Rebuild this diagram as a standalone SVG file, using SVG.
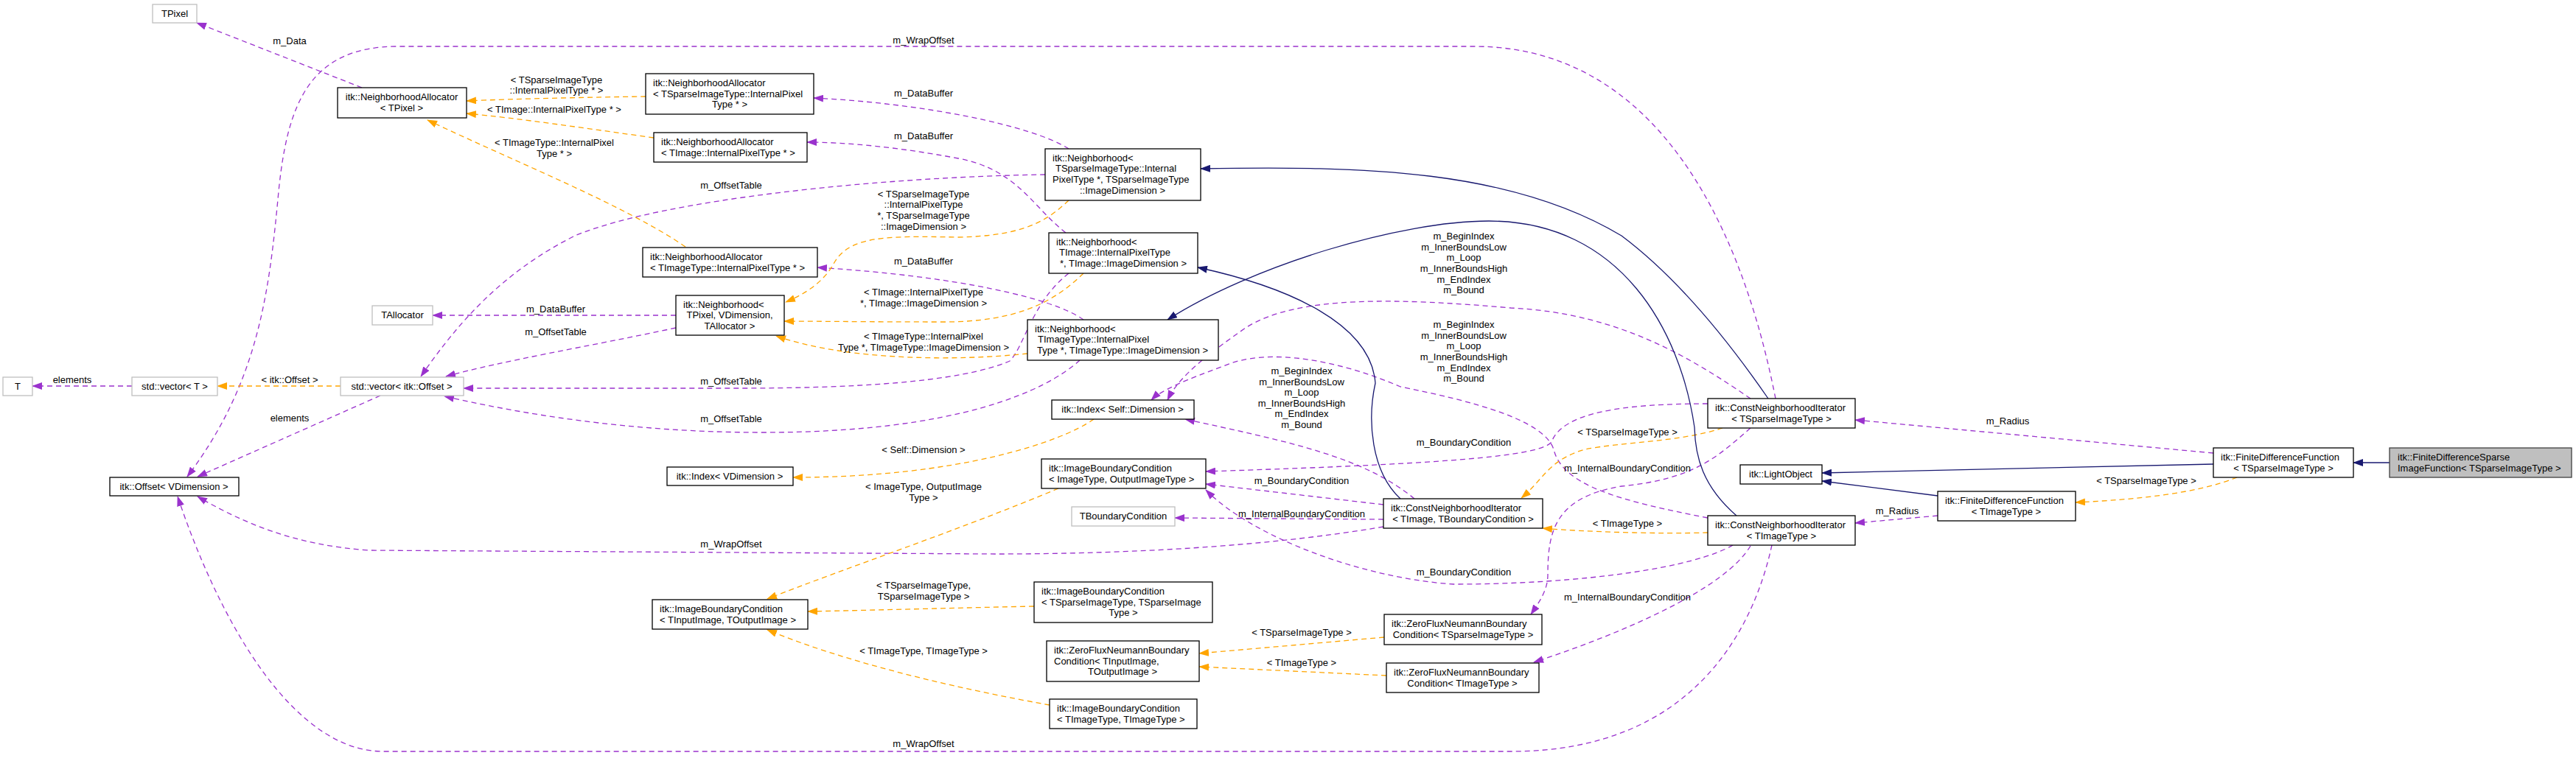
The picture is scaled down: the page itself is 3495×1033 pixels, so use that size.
<svg xmlns="http://www.w3.org/2000/svg" width="3495" height="1033" viewBox="0 0 3495 1033">
<style>
text{font-family:"Liberation Sans",Arial,sans-serif;font-size:13px;fill:#000}
.c{text-anchor:middle}
.n rect{fill:#fff;stroke:#000;stroke-width:1.3}
.g rect{fill:#fff;stroke:#bfbfbf;stroke-width:1.3}
.s rect{fill:#bfbfbf;stroke:#404040;stroke-width:1.3}
.p{fill:none;stroke:#9a32cd;stroke-width:1.3;stroke-dasharray:7,5;marker-end:url(#mp)}
.o{fill:none;stroke:#ffa500;stroke-width:1.3;stroke-dasharray:7,5;marker-end:url(#mo)}
.b{fill:none;stroke:#191970;stroke-width:1.3;marker-end:url(#mb)}
</style>
<defs>
<marker id="mp" markerWidth="14" markerHeight="10" refX="13" refY="5" orient="auto" markerUnits="userSpaceOnUse"><path d="M0,0L14,5L0,10z" fill="#9a32cd"/></marker>
<marker id="mo" markerWidth="14" markerHeight="10" refX="13" refY="5" orient="auto" markerUnits="userSpaceOnUse"><path d="M0,0L14,5L0,10z" fill="#ffa500"/></marker>
<marker id="mb" markerWidth="14" markerHeight="10" refX="13" refY="5" orient="auto" markerUnits="userSpaceOnUse"><path d="M0,0L14,5L0,10z" fill="#191970"/></marker>
</defs>
<rect width="3495" height="1033" fill="#fff"/>
<g id="edges">
<path class="p" d="M491,119L267,31"/><text class="c" x="393" y="60">m_Data</text>
<path class="p" d="M2409,541C2385,420 2300,63 2000,63L540,63C420,63 390,140 378,260C365,400 350,520 254,647"/><text class="c" x="1253" y="59">m_WrapOffset</text>
<path class="p" d="M1450,202C1400,170 1250,140 1104,133"/><text class="c" x="1253" y="131">m_DataBuffer</text>
<path class="p" d="M1446,316C1400,280 1380,230 1300,215C1220,200 1150,193 1095,193"/><text class="c" x="1253" y="189">m_DataBuffer</text>
<path class="p" d="M1470,434C1430,405 1300,375 1109,363"/><text class="c" x="1253" y="359">m_DataBuffer</text>
<path class="p" d="M917,428L587,428"/><text class="c" x="754" y="424">m_DataBuffer</text>
<path class="p" d="M917,445C800,470 680,490 605,511"/><text class="c" x="754" y="455">m_OffsetTable</text>
<path class="p" d="M1418,237C1200,240 900,270 780,320C680,370 620,440 571,511"/><text class="c" x="992" y="256">m_OffsetTable</text>
<path class="p" d="M1450,371C1400,410 1390,470 1370,490C1300,520 1150,527 1000,527L629,527"/><text class="c" x="992" y="522">m_OffsetTable</text>
<path class="p" d="M1465,489C1420,530 1300,587 1035,587C850,587 700,560 603,538"/><text class="c" x="992" y="573">m_OffsetTable</text>
<path class="p" d="M516,537L268,647"/><text class="c" x="393" y="572">elements</text>
<path class="p" d="M179,524L44,524"/><text class="c" x="98" y="520">elements</text>
<path class="o" d="M462,524L295,524"/><text class="c" x="393" y="520">&lt; itk::Offset &gt;</text>
<path class="p" d="M1877,715C1700,745 1500,752 1350,752L500,747C400,740 330,710 268,674"/><text class="c" x="992" y="743">m_WrapOffset</text>
<path class="p" d="M2404,740C2380,850 2300,1020 2050,1020L520,1020C400,1020 300,850 241,674"/><text class="c" x="1253" y="1014">m_WrapOffset</text>
<path class="p" d="M2375,541C2300,490 2200,425 2050,418C1900,405 1760,400 1690,445C1640,480 1600,510 1584,543"/>
<text class="c" x="1986" y="325">m_BeginIndex</text><text class="c" x="1986" y="340">m_InnerBoundsLow</text><text class="c" x="1986" y="354">m_Loop</text><text class="c" x="1986" y="369">m_InnerBoundsHigh</text><text class="c" x="1986" y="384">m_EndIndex</text><text class="c" x="1986" y="398">m_Bound</text>
<path class="p" d="M2317,703C2200,680 2120,660 2108,610C2095,570 2000,545 1900,525C1820,490 1720,470 1660,497C1610,515 1575,530 1562,543"/>
<text class="c" x="1986" y="445">m_BeginIndex</text><text class="c" x="1986" y="460">m_InnerBoundsLow</text><text class="c" x="1986" y="474">m_Loop</text><text class="c" x="1986" y="489">m_InnerBoundsHigh</text><text class="c" x="1986" y="504">m_EndIndex</text><text class="c" x="1986" y="518">m_Bound</text>
<path class="p" d="M1919,677C1850,620 1750,600 1608,569"/>
<text class="c" x="1766" y="508">m_BeginIndex</text><text class="c" x="1766" y="523">m_InnerBoundsLow</text><text class="c" x="1766" y="537">m_Loop</text><text class="c" x="1766" y="552">m_InnerBoundsHigh</text><text class="c" x="1766" y="566">m_EndIndex</text><text class="c" x="1766" y="581">m_Bound</text>
<path class="p" d="M1877,685L1636,657"/><text class="c" x="1766" y="657">m_BoundaryCondition</text>
<path class="p" d="M2317,548C2200,548 2120,560 2105,600C2090,620 1950,630 1636,640"/><text class="c" x="1986" y="605">m_BoundaryCondition</text>
<path class="p" d="M2351,740C2300,770 2150,793 1972,793C1850,785 1700,730 1636,665"/><text class="c" x="1986" y="781">m_BoundaryCondition</text>
<path class="p" d="M1877,705L1594,703"/><text class="c" x="1766" y="702">m_InternalBoundaryCondition</text>
<path class="p" d="M2375,581C2330,620 2300,650 2200,660C2110,675 2100,720 2100,780C2100,800 2090,815 2077,834"/><text class="c" x="2208" y="640">m_InternalBoundaryCondition</text>
<path class="p" d="M2375,741C2340,800 2200,860 2081,899"/><text class="c" x="2208" y="815">m_InternalBoundaryCondition</text>
<path class="p" d="M3003,615L2517,570"/><text class="c" x="2724" y="576">m_Radius</text>
<path class="p" d="M2629,700L2517,710"/><text class="c" x="2574" y="698">m_Radius</text>
<path class="o" d="M876,131C800,132 700,134 633,137"/><text class="c" x="755" y="113">&lt; TSparseImageType</text><text class="c" x="755" y="127">::InternalPixelType * &gt;</text>
<path class="o" d="M887,187C800,175 700,160 633,154"/><text class="c" x="752" y="153">&lt; TImage::InternalPixelType * &gt;</text>
<path class="o" d="M930,335C850,280 700,220 580,163"/><text class="c" x="752" y="198">&lt; TImageType::InternalPixel</text><text class="c" x="752" y="213">Type * &gt;</text>
<path class="o" d="M1450,272C1420,300 1390,320 1300,322C1200,320 1150,320 1130,360C1115,385 1090,400 1066,410"/>
<text class="c" x="1253" y="268">&lt; TSparseImageType</text><text class="c" x="1253" y="282">::InternalPixelType</text><text class="c" x="1253" y="297">*, TSparseImageType</text><text class="c" x="1253" y="312">::ImageDimension &gt;</text>
<path class="o" d="M1470,371C1430,410 1380,437 1280,437C1180,437 1100,436 1064,436"/><text class="c" x="1253" y="401">&lt; TImage::InternalPixelType</text><text class="c" x="1253" y="416">*, TImage::ImageDimension &gt;</text>
<path class="o" d="M1394,480C1300,490 1150,490 1053,456"/><text class="c" x="1253" y="461">&lt; TImageType::InternalPixel</text><text class="c" x="1253" y="476">Type *, TImageType::ImageDimension &gt;</text>
<path class="o" d="M1484,569C1440,600 1300,648 1076,648"/><text class="c" x="1253" y="615">&lt; Self::Dimension &gt;</text>
<path class="o" d="M1436,663C1300,720 1150,770 1041,813"/><text class="c" x="1253" y="665">&lt; ImageType, OutputImage</text><text class="c" x="1253" y="680">Type &gt;</text>
<path class="o" d="M1403,823C1300,825 1200,828 1096,830"/><text class="c" x="1253" y="799">&lt; TSparseImageType,</text><text class="c" x="1253" y="814">TSparseImageType &gt;</text>
<path class="o" d="M1424,957C1300,935 1150,900 1041,855"/><text class="c" x="1253" y="888">&lt; TImageType, TImageType &gt;</text>
<path class="o" d="M1878,865L1627,887"/><text class="c" x="1766" y="863">&lt; TSparseImageType &gt;</text>
<path class="o" d="M1881,917L1627,905"/><text class="c" x="1766" y="904">&lt; TImageType &gt;</text>
<path class="o" d="M2337,581C2280,600 2200,600 2150,610C2100,625 2095,650 2064,676"/><text class="c" x="2208" y="591">&lt; TSparseImageType &gt;</text>
<path class="o" d="M2317,723C2250,725 2150,722 2093,717"/><text class="c" x="2208" y="715">&lt; TImageType &gt;</text>
<path class="o" d="M3035,648C2980,670 2900,678 2816,682"/><text class="c" x="2912" y="657">&lt; TSparseImageType &gt;</text>
<path class="b" d="M3242,628L3193,628"/>
<path class="b" d="M3003,630L2472,642"/>
<path class="b" d="M2629,673L2472,653"/>
<path class="b" d="M2399,541C2350,470 2280,380 2200,320C2050,230 1850,225 1629,229"/>
<path class="b" d="M2356,700C2310,660 2300,620 2299,580C2280,450 2200,300 2020,300C1900,300 1700,360 1584,434"/>
<path class="b" d="M1900,677C1860,640 1855,570 1866,520C1860,440 1750,390 1625,363"/>
</g>
<g id="n_tpixel" class="g"><rect x="207" y="6" width="60" height="25"/><text class="c" x="237" y="23">TPixel</text></g>
<g id="n_na_tpixel" class="n"><rect x="458" y="119" width="175" height="41"/><text class="c" x="545" y="136">itk::NeighborhoodAllocator</text><text class="c" x="545" y="151">&lt; TPixel &gt;</text></g>
<g id="n_tallocator" class="g"><rect x="505" y="415" width="82" height="26"/><text class="c" x="546" y="432">TAllocator</text></g>
<g id="n_t" class="g"><rect x="4" y="512" width="40" height="25"/><text class="c" x="24" y="529">T</text></g>
<g id="n_vector_t" class="g"><rect x="179" y="512" width="116" height="25"/><text class="c" x="237" y="529">std::vector&lt; T &gt;</text></g>
<g id="n_vector_offset" class="g"><rect x="462" y="512" width="167" height="25"/><text class="c" x="545" y="529">std::vector&lt; itk::Offset &gt;</text></g>
<g id="n_offset" class="n"><rect x="149" y="648" width="175" height="25"/><text class="c" x="236" y="665">itk::Offset&lt; VDimension &gt;</text></g>
<g id="n_na_sparse" class="n"><rect x="876" y="100" width="228" height="55"/><text x="886" y="117">itk::NeighborhoodAllocator</text><text x="886" y="132">&lt; TSparseImageType::InternalPixel</text><text class="c" x="990" y="146">Type * &gt;</text></g>
<g id="n_na_timage" class="n"><rect x="887" y="180" width="208" height="40"/><text x="897" y="197">itk::NeighborhoodAllocator</text><text x="897" y="212">&lt; TImage::InternalPixelType * &gt;</text></g>
<g id="n_na_timagetype" class="n"><rect x="872" y="336" width="237" height="40"/><text x="882" y="353">itk::NeighborhoodAllocator</text><text x="882" y="368">&lt; TImageType::InternalPixelType * &gt;</text></g>
<g id="n_nbh_tpixel" class="n"><rect x="917" y="401" width="147" height="54"/><text x="927" y="418">itk::Neighborhood&lt;</text><text class="c" x="990" y="432"> TPixel, VDimension,</text><text class="c" x="990" y="447">TAllocator &gt;</text></g>
<g id="n_index_vd" class="n"><rect x="905" y="634" width="171" height="25"/><text class="c" x="990" y="651">itk::Index&lt; VDimension &gt;</text></g>
<g id="n_ibc_in_out" class="n"><rect x="885" y="814" width="211" height="40"/><text x="895" y="831">itk::ImageBoundaryCondition</text><text x="895" y="846">&lt; TInputImage, TOutputImage &gt;</text></g>
<g id="n_nbh_sparse" class="n"><rect x="1418" y="202" width="211" height="70"/><text x="1428" y="219">itk::Neighborhood&lt;</text><text x="1432" y="233">TSparseImageType::Internal</text><text x="1428" y="248">PixelType *, TSparseImageType</text><text class="c" x="1523" y="263">::ImageDimension &gt;</text></g>
<g id="n_nbh_timage" class="n"><rect x="1423" y="316" width="202" height="55"/><text x="1433" y="333">itk::Neighborhood&lt;</text><text x="1437" y="347">TImage::InternalPixelType</text><text class="c" x="1524" y="362">*, TImage::ImageDimension &gt;</text></g>
<g id="n_nbh_timagetype" class="n"><rect x="1394" y="434" width="259" height="55"/><text x="1404" y="451">itk::Neighborhood&lt;</text><text x="1408" y="465">TImageType::InternalPixel</text><text class="c" x="1523" y="480">Type *, TImageType::ImageDimension &gt;</text></g>
<g id="n_index_self" class="n"><rect x="1427" y="543" width="193" height="26"/><text class="c" x="1523" y="560">itk::Index&lt; Self::Dimension &gt;</text></g>
<g id="n_ibc_image_output" class="n"><rect x="1413" y="623" width="223" height="40"/><text x="1423" y="640">itk::ImageBoundaryCondition</text><text x="1423" y="655">&lt; ImageType, OutputImageType &gt;</text></g>
<g id="n_tboundary" class="g"><rect x="1454" y="688" width="140" height="26"/><text class="c" x="1524" y="705">TBoundaryCondition</text></g>
<g id="n_cni_timage_tbc" class="n"><rect x="1877" y="677" width="216" height="40"/><text x="1887" y="694">itk::ConstNeighborhoodIterator</text><text class="c" x="1985" y="709">&lt; TImage, TBoundaryCondition &gt;</text></g>
<g id="n_ibc_sparse" class="n"><rect x="1403" y="790" width="242" height="55"/><text x="1413" y="807">itk::ImageBoundaryCondition</text><text x="1413" y="822">&lt; TSparseImageType, TSparseImage</text><text class="c" x="1524" y="836">Type &gt;</text></g>
<g id="n_zfnbc_in_out" class="n"><rect x="1420" y="870" width="207" height="55"/><text x="1430" y="887">itk::ZeroFluxNeumannBoundary</text><text x="1430" y="902">Condition&lt; TInputImage,</text><text class="c" x="1523" y="916">TOutputImage &gt;</text></g>
<g id="n_ibc_timagetype" class="n"><rect x="1424" y="949" width="200" height="40"/><text x="1434" y="966">itk::ImageBoundaryCondition</text><text x="1434" y="981">&lt; TImageType, TImageType &gt;</text></g>
<g id="n_zfnbc_sparse" class="n"><rect x="1878" y="834" width="214" height="41"/><text x="1888" y="851">itk::ZeroFluxNeumannBoundary</text><text class="c" x="1985" y="866">Condition&lt; TSparseImageType &gt;</text></g>
<g id="n_zfnbc_timagetype" class="n"><rect x="1881" y="900" width="207" height="40"/><text x="1891" y="917">itk::ZeroFluxNeumannBoundary</text><text class="c" x="1984" y="932">Condition&lt; TImageType &gt;</text></g>
<g id="n_cni_sparse" class="n"><rect x="2317" y="541" width="200" height="40"/><text x="2327" y="558">itk::ConstNeighborhoodIterator</text><text class="c" x="2417" y="573">&lt; TSparseImageType &gt;</text></g>
<g id="n_lightobject" class="n"><rect x="2361" y="631" width="111" height="26"/><text class="c" x="2416" y="648">itk::LightObject</text></g>
<g id="n_cni_timagetype" class="n"><rect x="2317" y="700" width="200" height="40"/><text x="2327" y="717">itk::ConstNeighborhoodIterator</text><text class="c" x="2417" y="732">&lt; TImageType &gt;</text></g>
<g id="n_fdf_timagetype" class="n"><rect x="2629" y="667" width="187" height="40"/><text x="2639" y="684">itk::FiniteDifferenceFunction</text><text class="c" x="2722" y="699">&lt; TImageType &gt;</text></g>
<g id="n_fdf_sparse" class="n"><rect x="3003" y="608" width="190" height="40"/><text x="3013" y="625">itk::FiniteDifferenceFunction</text><text class="c" x="3098" y="640">&lt; TSparseImageType &gt;</text></g>
<g id="n_fdsparse" class="s"><rect x="3242" y="608" width="247" height="40"/><text x="3253" y="625">itk::FiniteDifferenceSparse</text><text x="3253" y="640">ImageFunction&lt; TSparseImageType &gt;</text></g>
</svg>
